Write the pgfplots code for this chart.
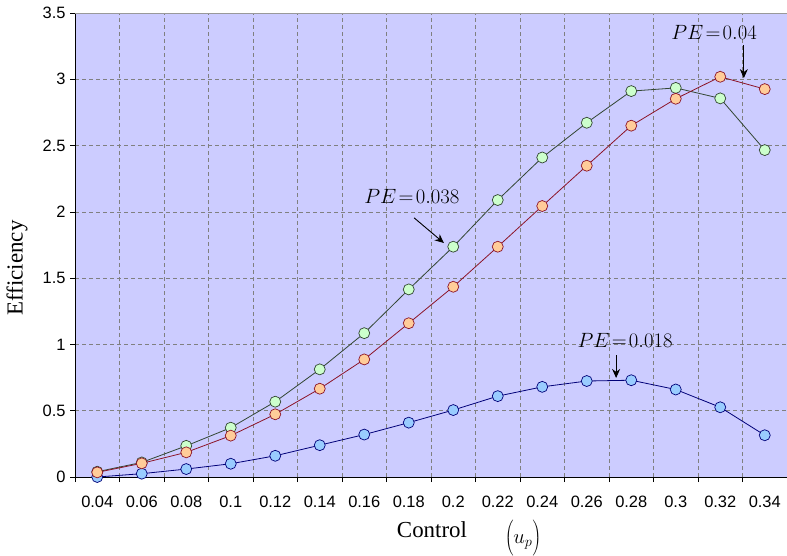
\documentclass[border=0pt]{standalone}
\usepackage{fontspec}
\setmainfont{Liberation Serif}
\newfontfamily\arialf{Liberation Sans}
\usepackage{pgfplots}
\pgfplotsset{compat=1.18}
\usetikzlibrary{arrows.meta}
\definecolor{bgc}{RGB}{204,204,255}
\definecolor{gfill}{RGB}{204,255,204}
\definecolor{gline}{RGB}{50,70,50}
\definecolor{ofill}{RGB}{255,204,153}
\definecolor{oline}{RGB}{140,20,40}
\definecolor{bfill}{RGB}{153,204,255}
\definecolor{bline}{RGB}{0,0,120}
\definecolor{gridc}{RGB}{128,128,128}
\begin{document}
\begin{tikzpicture}
\useasboundingbox (-75bp,-79bp) rectangle (712bp,477bp);
\begin{axis}[
  at={(0,0)}, anchor=south west,
  scale only axis, width=712bp, height=464bp,
  xmin=-0.5, xmax=15.5, ymin=0, ymax=3.5,
  axis background/.style={fill=bgc},
  axis x line*=bottom, axis y line*=left,
  axis line style={black, line width=0.8bp},
  xtick={-0.5,0.5,...,15.5},
  x tick label as interval,
  xticklabels={0.04,0.06,0.08,0.1,0.12,0.14,0.16,0.18,0.2,0.22,0.24,0.26,0.28,0.3,0.32,0.34},
  ytick={0,0.5,...,3.5},
  tick align=outside, major tick length=5bp,
  tick style={black, line width=0.6bp},
  grid=major,
  major grid style={gridc, line width=0.6bp, dash pattern=on 4bp off 3bp},
  /pgf/number format/assume math mode=true,
  ticklabel style={font=\arialf\fontsize{16.5}{19}\selectfont},
  xticklabel style={yshift=-11bp},
  yticklabel style={xshift=-1bp},
  clip=false,
]
\draw[gray!80, line width=0.8bp] (rel axis cs:0,1) -- (rel axis cs:1,1);
\addplot[bline, line width=0.8bp, mark=*, mark size=5.5bp, mark options={fill=bfill, draw=bline, line width=0.7bp}] coordinates {
(0,0.00) (1,0.025) (2,0.06) (3,0.10) (4,0.16) (5,0.24) (6,0.32) (7,0.41) (8,0.505) (9,0.61) (10,0.68) (11,0.724) (12,0.73) (13,0.66) (14,0.526) (15,0.315)};
\addplot[gline, line width=0.8bp, mark=*, mark size=5.5bp, mark options={fill=gfill, draw=gline, line width=0.7bp}] coordinates {
(0,0.04) (1,0.11) (2,0.235) (3,0.372) (4,0.568) (5,0.812) (6,1.085) (7,1.415) (8,1.737) (9,2.089) (10,2.41) (11,2.672) (12,2.911) (13,2.935) (14,2.856) (15,2.466)};
\addplot[oline, line width=0.8bp, mark=*, mark size=5.5bp, mark options={fill=ofill, draw=oline, line width=0.7bp}] coordinates {
(0,0.035) (1,0.103) (2,0.186) (3,0.312) (4,0.473) (5,0.666) (6,0.887) (7,1.16) (8,1.435) (9,1.737) (10,2.044) (11,2.348) (12,2.65) (13,2.853) (14,3.019) (15,2.926)};
\node[font=\fontsize{22.5}{26}\selectfont] at (axis cs:7.07,2.12) {$PE\!=\!0.038$};
\draw[-{Stealth[length=9bp,width=8bp]}, line width=0.9bp] (axis cs:7.12,1.955) -- (axis cs:7.79,1.765);
\node[font=\fontsize{22.5}{26}\selectfont] at (axis cs:13.86,3.356) {$PE\!=\!0.04$};
\draw[-{Stealth[length=9bp,width=8bp]}, line width=0.9bp] (axis cs:14.53,3.258) -- (axis cs:14.53,3.009);
\node[font=\fontsize{22.5}{26}\selectfont] at (axis cs:11.86,1.033) {$PE\!=\!0.018$};
\draw[-{Stealth[length=9bp,width=8bp]}, line width=0.9bp] (axis cs:11.66,0.92) -- (axis cs:11.66,0.747);
\end{axis}
\node[rotate=90, font=\fontsize{23}{27}\selectfont] at (-58bp,209bp) {Efficiency};
\node[font=\fontsize{23}{27}\selectfont] at (357bp,-53bp) {Control};
\node[font=\fontsize{22}{26}\selectfont, anchor=base, inner sep=0pt] at (448bp,-66bp) {$\left(\vrule height 24bp depth 13bp width 0pt u_{p}\right)$};
\end{tikzpicture}
\end{document}
